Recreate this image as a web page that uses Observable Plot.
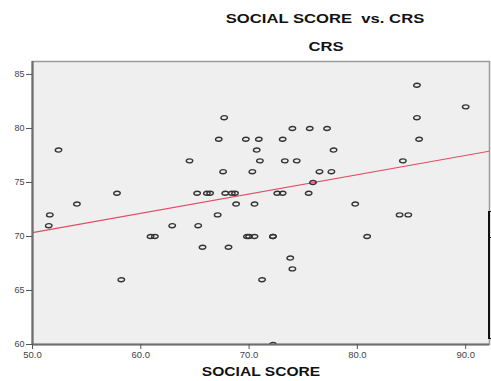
<!DOCTYPE html>
<html>
<head>
<meta charset="utf-8">
<script src="https://cdn.jsdelivr.net/npm/d3@7"></script>
<script src="https://cdn.jsdelivr.net/npm/@observablehq/plot@0.6"></script>
<style>
  html, body { margin: 0; padding: 0; background: #fff; }
  #wrap { position: relative; width: 491px; height: 381px; overflow: hidden; font-family: "Liberation Sans", Arial, sans-serif; }
  .t { position: absolute; transform: translate(-50%, -50%) scaleX(1.28); font-weight: bold; font-size: 13px; color: #111; white-space: nowrap; }
  #chart { position: absolute; left: 0; top: 52px; }
  #bracket { position: absolute; left: 488px; top: 211px; width: 4px; height: 126px; border-left: 2px solid #111; border-top: 1px solid #111; border-bottom: 1px solid #111; }
  #bracket2 { position: absolute; left: 488px; top: 237px; width: 4px; border-top: 1px solid #111; }
</style>
</head>
<body>
<div id="wrap">
  <div class="t" style="left:325px; top:18px;">SOCIAL SCORE&nbsp; vs. CRS</div>
  <div class="t" style="left:326px; top:46px;">CRS</div>
  <div id="chart"></div>
  <div id="bracket"></div>
  <div id="bracket2"></div>
  <div class="t" style="left:261px; top:371px; transform: translate(-50%, -50%) scaleX(1.2);">SOCIAL SCORE</div>
</div>
<script>
// Observed points: SOCIAL SCORE (x) and CRS (y)
const socialScore = [
  85.5, 90.0, 67.7, 85.5, 74.0, 75.6, 77.2, 67.2, 69.7, 70.9,
  73.1, 85.7, 52.4, 70.7, 77.8, 64.5, 71.0, 73.3, 74.4, 84.2,
  67.6, 70.3, 76.5, 77.6, 75.9, 57.8, 65.2, 66.1, 66.4, 67.8,
  68.4, 68.7, 72.6, 73.1, 75.5, 54.1, 68.8, 70.5, 79.8, 51.6,
  67.1, 83.9, 84.7, 51.5, 62.9, 65.3, 60.9, 61.3, 69.8, 70.0,
  70.5, 72.2, 72.2, 80.9, 65.7, 68.1, 73.8, 74.0, 58.2, 71.2,
  72.2
];
const crs = [
  84, 82, 81, 81, 80, 80, 80, 79, 79, 79,
  79, 79, 78, 78, 78, 77, 77, 77, 77, 77,
  76, 76, 76, 76, 75, 74, 74, 74, 74, 74,
  74, 74, 74, 74, 74, 73, 73, 73, 73, 72,
  72, 72, 72, 71, 71, 71, 70, 70, 70, 70,
  70, 70, 70, 70, 69, 69, 68, 67, 66, 66,
  60
];
const xTicks = [50, 60, 70, 80, 90];
const yTicks = [60, 65, 70, 75, 80, 85];
const xDomain = [50, 92.2];
const yDomain = [60, 86.2];

const points = socialScore.map((x, i) => ({x, y: crs[i]}));

// least-squares fit line, extended across the frame
const mx = d3.mean(socialScore), my = d3.mean(crs);
const slope = d3.sum(points, d => (d.x - mx) * (d.y - my)) / d3.sum(points, d => (d.x - mx) ** 2);
const intercept = my - slope * mx;
const fitLine = xDomain.map(x => ({x, y: intercept + slope * x}));

const ellipse = {
  draw(ctx, size) {
    const r = Math.sqrt(size / Math.PI);
    const rx = r * 1.05, ry = r * 0.65, k = 0.5523;
    ctx.moveTo(rx, 0);
    ctx.bezierCurveTo(rx, ry * k, rx * k, ry, 0, ry);
    ctx.bezierCurveTo(-rx * k, ry, -rx, ry * k, -rx, 0);
    ctx.bezierCurveTo(-rx, -ry * k, -rx * k, -ry, 0, -ry);
    ctx.bezierCurveTo(rx * k, -ry, rx, -ry * k, rx, 0);
    ctx.closePath();
  }
};

const chart = Plot.plot({
  width: 491,
  height: 308,
  marginTop: 9,
  marginBottom: 16,
  marginLeft: 32,
  marginRight: 2,
  style: {fontFamily: "Liberation Sans, Arial, sans-serif", background: "transparent", overflow: "visible"},
  x: {domain: xDomain},
  y: {domain: yDomain},
  marks: [
    Plot.frame({fill: "#efefef", stroke: "#9a9a9a", strokeWidth: 1.5}),
    Plot.line(fitLine, {x: "x", y: "y", stroke: "#e24a66", strokeWidth: 1.1, clip: "frame"}),
    Plot.dot(points, {x: "x", y: "y", r: 3.1, symbol: ellipse, stroke: "#333", strokeWidth: 1.4, fill: "none", clip: "frame"}),
    Plot.ruleX([xDomain[0]], {stroke: "#6f6f6f", strokeWidth: 2.2}),
    Plot.ruleY([yDomain[0]], {stroke: "#6f6f6f", strokeWidth: 2.2}),
    Plot.axisX({ticks: xTicks, tickFormat: d3.format(".1f"), tickSize: 5, tickPadding: 2, label: null, fontSize: 9.5, color: "#444", stroke: "#555"}),
    Plot.axisY({ticks: yTicks, tickSize: 6, tickPadding: 2, label: null, fontSize: 9, color: "#444", stroke: "#555"})
  ]
});
document.getElementById("chart").appendChild(chart);
</script>
</body>
</html>
